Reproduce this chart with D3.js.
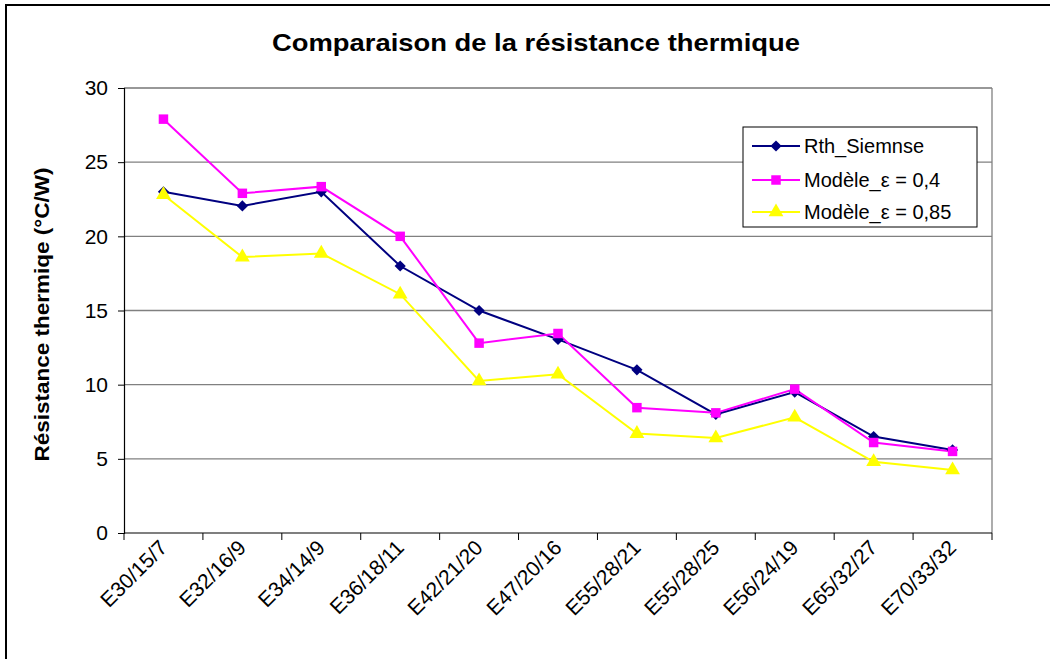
<!DOCTYPE html>
<html>
<head>
<meta charset="utf-8">
<script src="https://cdn.jsdelivr.net/npm/d3@7"></script>
<style>
  html, body { margin: 0; padding: 0; background: #fff; }
  svg { display: block; font-family: "Liberation Sans", Arial, sans-serif; }
</style>
</head>
<body>
<svg id="chart" width="1050" height="659"></svg>
<script>
// Thermal resistance per core type (°C/W)
const categories = ["E30/15/7", "E32/16/9", "E34/14/9", "E36/18/11", "E42/21/20", "E47/20/16",
                    "E55/28/21", "E55/28/25", "E56/24/19", "E65/32/27", "E70/33/32"];
const rthSiemens = [23.0, 22.05, 23.0, 18.0, 15.0, 13.05, 11.0, 8.0, 9.5, 6.5, 5.6];
const modele04   = [27.9, 22.9, 23.35, 20.0, 12.8, 13.45, 8.45, 8.1, 9.7, 6.1, 5.5];
const modele085  = [22.8, 18.6, 18.85, 16.1, 10.25, 10.7, 6.7, 6.4, 7.8, 4.8, 4.25];
const yTicks = [0, 5, 10, 15, 20, 25, 30];

const seriesList = [
  { name: "Rth_Siemnse",        values: rthSiemens, color: "#000080", marker: d3.symbolDiamond2, size: 80 },
  { name: "Modèle_ε = 0,4",     values: modele04,   color: "#FF00FF", marker: d3.symbolSquare,   size: 90 },
  { name: "Modèle_ε = 0,85",    values: modele085,  color: "#FFFF00", marker: d3.symbolTriangle, size: 95 }
];

const svg = d3.select("#chart");
const plot = { left: 124, right: 992, top: 88, bottom: 533 };

// outer chart frame
svg.append("rect")
  .attr("x", 6).attr("y", 5).attr("width", 1060).attr("height", 670)
  .attr("fill", "#fff").attr("stroke", "#000").attr("stroke-width", 2);

const x = d3.scaleBand().domain(categories).range([plot.left, plot.right]).padding(0);
const y = d3.scaleLinear().domain([0, 30]).range([plot.bottom, plot.top]);

// horizontal gridlines
svg.append("g").selectAll("line")
  .data(yTicks.filter(t => t > 0 && t < 30))
  .join("line")
  .attr("x1", plot.left).attr("x2", plot.right)
  .attr("y1", d => y(d)).attr("y2", d => y(d))
  .attr("stroke", "#808080").attr("stroke-width", 1.3);

// plot area border (top and right)
svg.append("line").attr("x1", plot.left).attr("x2", plot.right)
  .attr("y1", plot.top).attr("y2", plot.top).attr("stroke", "#333").attr("stroke-width", 1.2);
svg.append("line").attr("x1", plot.right).attr("x2", plot.right)
  .attr("y1", plot.top).attr("y2", plot.bottom).attr("stroke", "#808080").attr("stroke-width", 1.3);

// y axis
const yAxis = d3.axisLeft(y).tickValues(yTicks).tickSize(6).tickPadding(10);
const gy = svg.append("g").attr("transform", `translate(${plot.left},0)`).call(yAxis);
gy.select(".domain").attr("stroke", "#000").attr("stroke-width", 1.2);
gy.selectAll(".tick line").attr("stroke", "#000");
gy.selectAll(".tick text").attr("font-size", 21).attr("fill", "#000")
  .attr("font-family", "Liberation Sans, Arial, sans-serif");

// x axis: ticks fall between categories
const gx = svg.append("g").attr("transform", `translate(0,${plot.bottom})`);
gx.append("line").attr("x1", plot.left).attr("x2", plot.right)
  .attr("stroke", "#000").attr("stroke-width", 1.2);
const boundaries = categories.map(c => x(c)).concat([x(categories[categories.length - 1]) + x.bandwidth()]);
gx.selectAll("line.tk").data(boundaries).join("line").attr("class", "tk")
  .attr("x1", d => d).attr("x2", d => d).attr("y1", 0).attr("y2", 7)
  .attr("stroke", "#000");
gx.selectAll("text").data(categories).join("text")
  .attr("transform", d => `translate(${x(d) + x.bandwidth() / 2 + 5},${16}) rotate(-45)`)
  .attr("text-anchor", "end")
  .attr("font-size", 21)
  .attr("fill", "#000")
  .text(d => d);

// series lines and markers
const line = d3.line()
  .x((d, i) => x(categories[i]) + x.bandwidth() / 2)
  .y(d => y(d));

seriesList.forEach(s => {
  svg.append("path").datum(s.values)
    .attr("d", line).attr("fill", "none")
    .attr("stroke", s.color).attr("stroke-width", 2);
});
seriesList.forEach(s => {
  svg.append("g").selectAll("path")
    .data(s.values)
    .join("path")
    .attr("transform", (d, i) => `translate(${x(categories[i]) + x.bandwidth() / 2},${y(d)})`)
    .attr("d", d3.symbol().type(s.marker).size(s.size))
    .attr("fill", s.color);
});

// title
svg.append("text")
  .attr("x", 536).attr("y", 51)
  .attr("text-anchor", "middle")
  .attr("font-size", 24).attr("font-weight", "bold")
  .attr("textLength", 528).attr("lengthAdjust", "spacingAndGlyphs")
  .text("Comparaison de la résistance thermique");

// y axis title
svg.append("text")
  .attr("transform", `translate(49,${(plot.top + plot.bottom) / 2 + 4}) rotate(-90)`)
  .attr("text-anchor", "middle")
  .attr("font-size", 20).attr("font-weight", "bold")
  .attr("textLength", 294).attr("lengthAdjust", "spacingAndGlyphs")
  .text("Résistance thermiqe (°C/W)");

// legend
const legend = svg.append("g");
legend.append("rect")
  .attr("x", 743).attr("y", 127).attr("width", 234).attr("height", 100)
  .attr("fill", "#fff").attr("stroke", "#000").attr("stroke-width", 1);
const legY = [146, 180, 212];
seriesList.forEach((s, i) => {
  legend.append("line")
    .attr("x1", 752).attr("x2", 800).attr("y1", legY[i]).attr("y2", legY[i])
    .attr("stroke", s.color).attr("stroke-width", 2);
  legend.append("path")
    .attr("transform", `translate(776,${legY[i]})`)
    .attr("d", d3.symbol().type(s.marker).size(s.size))
    .attr("fill", s.color);
  legend.append("text")
    .attr("x", 804).attr("y", legY[i] + 7)
    .attr("font-size", 20)
    .text(s.name);
});
</script>
</body>
</html>
